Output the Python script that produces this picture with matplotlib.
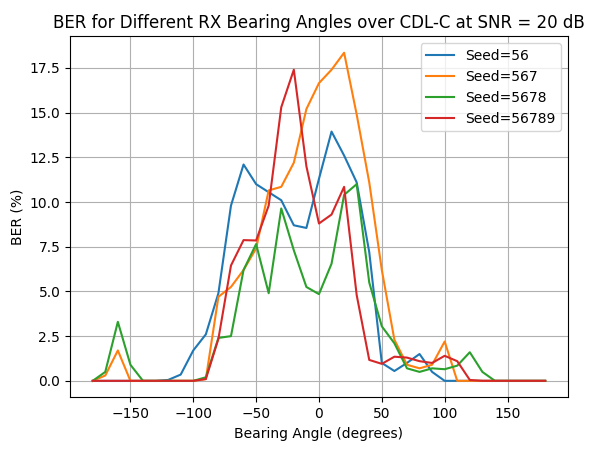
import matplotlib
matplotlib.use("Agg")
import matplotlib.pyplot as plt
import numpy as np

angles = list(range(-180, 181, 10))
z6 = [0]*6
seed56 = [0]*6 + [0.05, 0.35, 1.7, 2.6, 4.9, 9.8, 12.1, 11.0, 10.55, 10.1, 8.7, 8.55, 11.3, 13.94, 12.6, 11.1, 7.2, 1.0, 0.55, 1.0, 1.5, 0.5, 0, 0, 0, 0, 0, 0, 0, 0, 0]
seed567 = [0, 0.3, 1.7, 0, 0, 0, 0, 0, 0, 0.1, 4.7, 5.25, 6.2, 7.4, 10.65, 10.85, 12.2, 15.2, 16.65, 17.4, 18.35, 14.9, 11.1, 6.2, 2.3, 0.9, 0.7, 0.9, 2.2, 0, 0, 0, 0, 0, 0, 0, 0]
seed5678 = [0, 0.5, 3.3, 0.9, 0, 0, 0, 0, 0, 0.2, 2.4, 2.5, 6.2, 7.65, 4.9, 9.64, 7.3, 5.25, 4.85, 6.55, 10.4, 11.0, 5.5, 3.05, 2.1, 0.7, 0.5, 0.7, 0.65, 0.85, 1.6, 0.5, 0, 0, 0, 0, 0]
seed56789 = [0, 0, 0, 0, 0, 0, 0, 0, 0, 0.1, 2.35, 6.45, 7.87, 7.85, 9.8, 15.3, 17.4, 12.0, 8.8, 9.3, 10.85, 4.8, 1.17, 0.95, 1.35, 1.3, 1.1, 1.0, 1.4, 1.1, 0.05, 0, 0, 0, 0, 0, 0]
labels = ["Seed=56", "Seed=567", "Seed=5678", "Seed=56789"]

fig, ax = plt.subplots(figsize=(5.99, 4.54), dpi=100)
for s, l in zip([seed56, seed567, seed5678, seed56789], labels):
    ax.plot(angles, s, label=l)
ax.set_title("BER for Different RX Bearing Angles over CDL-C at SNR = 20 dB")
ax.set_xlabel("Bearing Angle (degrees)")
ax.set_ylabel("BER (%)")
ax.grid(True)
ax.legend(loc="upper right")
fig.subplots_adjust(left=0.117, right=0.948, bottom=0.125, top=0.92)
fig.savefig("out.png")
